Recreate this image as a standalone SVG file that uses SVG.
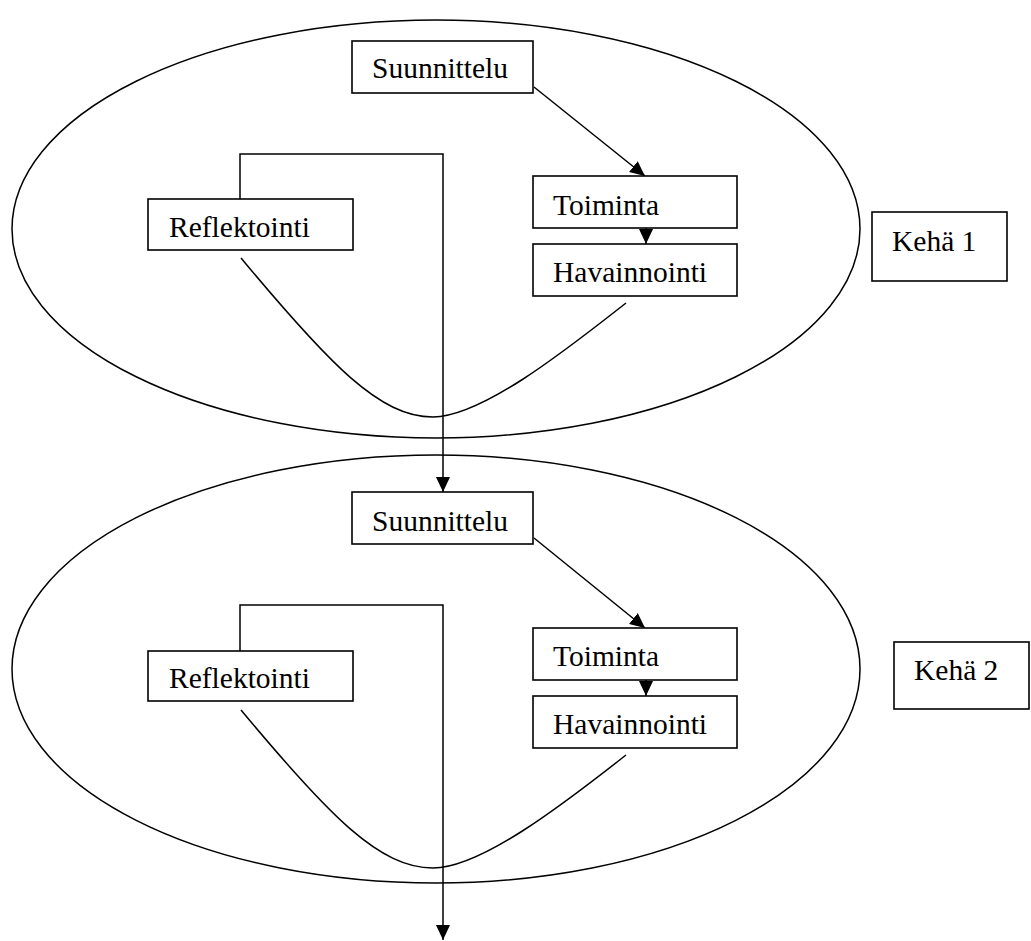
<svg xmlns="http://www.w3.org/2000/svg" width="1031" height="941" viewBox="0 0 1031 941">
<style>
.line{fill:none;stroke:#000;stroke-width:1.5}
.box{fill:#fff;stroke:#000;stroke-width:1.6}
.lbl{font-family:"Liberation Serif","Times New Roman",serif;font-size:29.5px;fill:#000}
</style>
<defs>
<marker id="ah" markerWidth="15" markerHeight="14" refX="15" refY="7" orient="auto" markerUnits="userSpaceOnUse">
<path d="M0,0 L15,7 L0,14 Z" fill="#000"/>
</marker>
</defs>
<rect width="1031" height="941" fill="#fff"/>
<g id="cycle1">
<ellipse class="line" cx="436" cy="229" rx="424" ry="209"/>
<path class="line" d="M241,258 C330,365 380,417 433,417 C480,417 560,355 626,303"/>
</g>
<g id="cycle2">
<ellipse class="line" cx="436" cy="669" rx="424" ry="214"/>
<path class="line" d="M241,710 C330,817 380,868 433,868 C480,868 560,807 626,755"/>
</g>
<g id="connectors">
<path class="line" d="M534,87 L645,176" marker-end="url(#ah)"/>
<path class="line" d="M646,222 L646,244" marker-end="url(#ah)"/>
<path class="line" d="M240,199 L240,154 L443,154 L443,492" marker-end="url(#ah)"/>
<path class="line" d="M534,538 L645,628" marker-end="url(#ah)"/>
<path class="line" d="M646,673 L646,696" marker-end="url(#ah)"/>
<path class="line" d="M240,651 L240,605 L443,605 L443,940" marker-end="url(#ah)"/>
</g>
<g id="suunnittelu1"><rect class="box" x="352" y="41" width="181" height="52"/><text class="lbl" x="372" y="78">Suunnittelu</text></g>
<g id="toiminta1"><rect class="box" x="533" y="176" width="204" height="52"/><text class="lbl" x="553" y="215">Toiminta</text></g>
<g id="havainnointi1"><rect class="box" x="533" y="244" width="204" height="52"/><text class="lbl" x="553" y="282">Havainnointi</text></g>
<g id="reflektointi1"><rect class="box" x="148" y="199" width="205" height="51"/><text class="lbl" x="169" y="237">Reflektointi</text></g>
<g id="keha1"><rect class="box" x="872" y="212" width="135" height="69"/><text class="lbl" x="892" y="251">Kehä 1</text></g>
<g id="suunnittelu2"><rect class="box" x="352" y="492" width="181" height="52"/><text class="lbl" x="372" y="531">Suunnittelu</text></g>
<g id="toiminta2"><rect class="box" x="533" y="628" width="204" height="52"/><text class="lbl" x="553" y="666">Toiminta</text></g>
<g id="havainnointi2"><rect class="box" x="533" y="696" width="204" height="52"/><text class="lbl" x="553" y="734">Havainnointi</text></g>
<g id="reflektointi2"><rect class="box" x="148" y="651" width="205" height="50"/><text class="lbl" x="169" y="688">Reflektointi</text></g>
<g id="keha2"><rect class="box" x="894" y="642" width="135" height="67"/><text class="lbl" x="914" y="680">Kehä 2</text></g>
</svg>
